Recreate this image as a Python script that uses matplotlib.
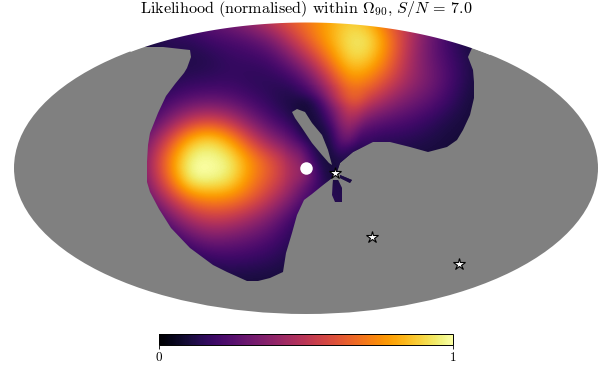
#!/usr/bin/env python3

import matplotlib
matplotlib.use('Agg')
import matplotlib.pyplot as plt
from matplotlib.patches import Ellipse, Polygon, PathPatch
from matplotlib.path import Path
import numpy as np

plt.rcParams['font.family'] = ['cmr10', 'DejaVu Serif']
plt.rcParams['mathtext.fontset'] = 'cm'
plt.rcParams['axes.unicode_minus'] = False
plt.rcParams['axes.formatter.use_mathtext'] = True

# map plane, units are picture pixels of the full sky ellipse
grid_x = [130, 150, 170, 190, 210, 230, 250, 270, 290, 310, 330, 350, 370, 390, 410, 430, 450, 470, 490]
grid_y = [20, 40, 60, 80, 100, 120, 140, 160, 180, 200, 220, 240, 260, 280, 300]

likelihood = [
    [.20, .20, .20, .25, .30, .35, .45, .55, .65, .72, .80, .88, .80, .60, .48, .33, .22, .13, .10],
    [.10, .10, .15, .15, .20, .22, .25, .33, .50, .68, .82, .95, .95, .72, .48, .30, .17, .10, .10],
    [.10, .10, .13, .12, .13, .17, .18, .20, .32, .50, .72, .92, .88, .68, .45, .30, .20, .12, .10],
    [.10, .10, .13, .15, .16, .17, .15, .15, .17, .30, .55, .78, .72, .58, .43, .33, .22, .12, .10],
    [.12, .15, .20, .25, .27, .25, .20, .15, .10, .15, .38, .65, .55, .42, .33, .27, .18, .10, .10],
    [.15, .20, .35, .50, .55, .48, .33, .22, .13, .10, .22, .45, .30, .25, .22, .17, .12, .10, .10],
    [.20, .35, .60, .85, .93, .80, .57, .38, .28, .12, .12, .30, .15, .15, .14, .12, .10, .10, .10],
    [.20, .45, .75, 1.0, 1.0, .97, .78, .63, .47, .25, .10, .12, .12, .12, .10, .10, .10, .10, .10],
    [.20, .42, .70, 1.0, 1.0, .95, .75, .62, .47, .28, .12, .10, .10, .10, .10, .10, .10, .10, .10],
    [.15, .30, .50, .68, .74, .72, .64, .50, .35, .17, .15, .15, .10, .10, .10, .10, .10, .10, .10],
    [.10, .15, .30, .45, .52, .50, .42, .33, .20, .10, .10, .10, .10, .10, .10, .10, .10, .10, .10],
    [.10, .10, .15, .25, .32, .30, .27, .22, .15, .10, .10, .10, .10, .10, .10, .10, .10, .10, .10],
    [.10, .10, .10, .12, .16, .18, .17, .15, .12, .10, .10, .10, .10, .10, .10, .10, .10, .10, .10],
    [.10, .10, .10, .10, .10, .10, .10, .10, .10, .10, .10, .10, .10, .10, .10, .10, .10, .10, .10],
    [.10, .10, .10, .10, .10, .10, .10, .10, .10, .10, .10, .10, .10, .10, .10, .10, .10, .10, .10],
]

# finer reading around the crossing of the two lobes
near_x = [290, 300, 310, 320, 330, 340, 350, 360, 370]
near_y = [90, 100, 110, 120, 130, 140, 150, 160, 170, 180, 190]
near_likelihood = [
    [.14, .18, .20, .32, .48, .62, .72, .72, .65],
    [.10, .10, .12, .22, .38, .52, .62, .62, .55],
    [.11, .10, .10, .15, .28, .42, .53, .50, .42],
    [.13, .10, .10, .12, .22, .38, .45, .40, .30],
    [.20, .12, .10, .10, .15, .32, .38, .28, .18],
    [.28, .20, .12, .10, .12, .27, .30, .18, .15],
    [.38, .32, .18, .10, .10, .20, .15, .12, .15],
    [.46, .38, .24, .12, .10, .12, .12, .12, .12],
    [.48, .42, .30, .15, .10, .12, .12, .10, .10],
    [.47, .40, .30, .18, .10, .12, .12, .10, .10],
    [.42, .32, .22, .14, .12, .15, .12, .10, .10],
]

# edge of the 90% region
region_x = [143, 163, 190, 191, 187, 184, 175, 166, 158, 150, 148, 147, 147, 150, 159, 171, 190, 213, 227, 247, 258, 270,
            283, 286, 292, 297, 304, 312, 323, 332, 337, 340, 353, 373, 390, 410, 428, 447, 457, 463, 470, 474, 474, 473, 468,
            472, 472, 143]
region_y = [47, 47, 50, 57, 68, 73, 84, 96, 113, 133, 145, 162, 182, 192, 209, 228, 248, 265, 272, 281, 281, 278,
            272, 253, 233, 215, 200, 194, 185, 178, 172, 163, 152, 142, 142, 147, 152, 147, 140, 130, 115, 98, 82, 70, 57,
            48, 22, 22]
arm_down_x = [333, 332, 335, 342, 342, 338]
arm_down_y = [180, 195, 202, 202, 188, 180]
arm_right_x = [340, 352, 350, 340]
arm_right_y = [175, 180, 183, 178]
hole_x = [292, 297, 305, 312, 322, 328, 332, 329, 322, 312, 302, 295]
hole_y = [112, 109, 112, 123, 135, 150, 165, 163, 155, 143, 128, 118]

# events
star_x = [335, 372, 459]
star_y = [173, 237, 264]
source_x = [306]
source_y = [168]

fig = plt.figure(figsize=(6.12, 3.88), dpi=100)
ax = fig.add_axes([14 / 612, 1 - 314 / 388, 584 / 612, 292 / 388])
ax.axis('off')

sky = Ellipse((306, 168), 584, 292, facecolor='#808080', edgecolor='none', zorder=1)
ax.add_patch(sky)

im = ax.imshow(np.array(likelihood), cmap='inferno', vmin=0, vmax=1, interpolation='bicubic',
               interpolation_stage='data', origin='upper', aspect='auto', zorder=2,
               extent=(grid_x[0] - 10, grid_x[-1] + 10, grid_y[-1] + 10, grid_y[0] - 10))

# outer ring of the finer patch is see through so it blends into the coarse one
near_alpha = np.ones((len(near_y), len(near_x)))
near_alpha[0, :] = near_alpha[-1, :] = 0
near_alpha[:, 0] = near_alpha[:, -1] = 0
im2 = ax.imshow(np.array(near_likelihood), cmap='inferno', vmin=0, vmax=1, interpolation='bicubic',
                interpolation_stage='data', origin='upper', aspect='auto', zorder=2.5, alpha=near_alpha,
                extent=(near_x[0] - 5, near_x[-1] + 5, near_y[-1] + 5, near_y[0] - 5))
ax.set_xlim(14, 598)
ax.set_ylim(314, 22)

verts = []
codes = []
for xs, ys in [(region_x, region_y), (arm_down_x, arm_down_y), (arm_right_x, arm_right_y)]:
    verts += list(zip(xs, ys)) + [(xs[0], ys[0])]
    codes += [Path.MOVETO] + [Path.LINETO] * (len(xs) - 1) + [Path.CLOSEPOLY]
clip = PathPatch(Path(verts, codes), transform=ax.transData)
im.set_clip_path(clip)
im2.set_clip_path(clip)

# region is also cut at the sky edge
outside_x = np.linspace(130, 490, 73)
outside_y = 168 - 146 * np.sqrt(1 - ((outside_x - 306) / 292) ** 2)
ax.fill_between(outside_x, 18, outside_y, color='white', linewidth=0, zorder=3, clip_on=False)

ax.add_patch(Polygon(list(zip(hole_x, hole_y)), closed=True, facecolor='#808080', edgecolor='none', zorder=4))
ax.plot(source_x, source_y, 'o', color='white', ms=9, mew=0, zorder=5)
ax.plot(star_x, star_y, '*', color='white', mec='black', mew=0.8, ms=9, zorder=6)

fig.text(306 / 612, 1 - 13 / 388, r'Likelihood (normalised) within $\Omega_{90}$, $S/N\,=\,7.0$',
         ha='center', va='baseline', fontsize=11.6)

cax = fig.add_axes([159 / 612, 1 - 345 / 388, 294 / 612, 11 / 388])
cb = fig.colorbar(im, cax=cax, orientation='horizontal')
cb.set_ticks([0, 1])
cb.set_ticklabels(['0', '1'])
cb.ax.tick_params(length=3, width=0.6, labelsize=9.5, pad=2)
cb.outline.set_linewidth(0.7)

fig.savefig('out.png', dpi=100, facecolor='white')
